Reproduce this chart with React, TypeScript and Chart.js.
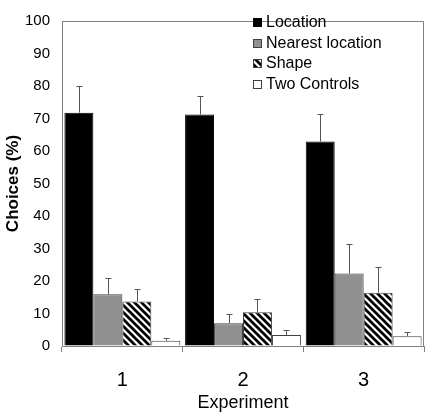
import React, { useEffect, useRef } from "react";
import { Chart, registerables } from "chart.js";

Chart.register(...registerables);

const categories = ["1", "2", "3"];
const seriesNames = ["Location", "Nearest location", "Shape", "Two Controls"];
const locationVals = [71.8, 71.2, 62.9];
const nearestVals = [15.9, 7.0, 22.3];
const shapeVals = [13.7, 10.4, 16.4];
const controlsVals = [1.6, 3.4, 3.0];
const locationErr = [8.1, 5.7, 8.4];
const nearestErr = [5.0, 2.9, 9.2];
const shapeErr = [3.8, 4.0, 7.9];
const controlsErr = [0.8, 1.5, 1.2];
const yTicks = [0, 10, 20, 30, 40, 50, 60, 70, 80, 90, 100];

const FONT = "'Liberation Sans', Arial, sans-serif";

function makeHatch(): CanvasPattern | string {
  const s = 7;
  const c = document.createElement("canvas");
  c.width = s;
  c.height = s;
  const g = c.getContext("2d");
  if (!g) return "#000";
  g.fillStyle = "#fff";
  g.fillRect(0, 0, s, s);
  g.strokeStyle = "#000";
  g.lineWidth = 2.7;
  for (const x0 of [-s, 0, s]) {
    g.beginPath();
    g.moveTo(x0 - 1, -1);
    g.lineTo(x0 + s + 1, s + 1);
    g.stroke();
  }
  const p = g.createPattern(c, "repeat");
  return p || "#000";
}

export default function App() {
  const ref = useRef<HTMLCanvasElement | null>(null);

  useEffect(() => {
    document.body.style.margin = "0";
    const canvas = ref.current;
    if (!canvas) return;
    const hatch = makeHatch();
    const values = [locationVals, nearestVals, shapeVals, controlsVals];
    const errors = [locationErr, nearestErr, shapeErr, controlsErr];
    const fills: any[] = ["#000000", "#909090", hatch, "#ffffff"];
    const borders = ["#000000", "#404040", "#404040", "#404040"];

    const errorPlugin = {
      id: "errbars",
      afterDatasetsDraw(chart: any) {
        const ctx = chart.ctx;
        const y = chart.scales.y;
        ctx.save();
        ctx.strokeStyle = "#555";
        ctx.lineWidth = 1;
        chart.data.datasets.forEach((ds: any, di: number) => {
          const meta = chart.getDatasetMeta(di);
          meta.data.forEach((bar: any, i: number) => {
            const v = ds.data[i];
            const e = errors[di][i];
            const x = Math.round(bar.x) + 0.5;
            const y0 = y.getPixelForValue(v);
            const y1 = Math.round(y.getPixelForValue(v + e)) + 0.5;
            ctx.beginPath();
            ctx.moveTo(x, y0);
            ctx.lineTo(x, y1);
            ctx.moveTo(x - 3, y1);
            ctx.lineTo(x + 3, y1);
            ctx.stroke();
          });
        });
        ctx.restore();
      },
    };

    const framePlugin = {
      id: "frame",
      afterDraw(chart: any) {
        const ctx = chart.ctx;
        const a = chart.chartArea;
        ctx.save();
        ctx.strokeStyle = "#808080";
        ctx.lineWidth = 1;
        ctx.beginPath();
        ctx.moveTo(Math.round(a.left) + 0.5, Math.round(a.top) + 0.5);
        ctx.lineTo(Math.round(a.right) - 0.5, Math.round(a.top) + 0.5);
        ctx.lineTo(Math.round(a.right) - 0.5, Math.round(a.bottom));
        ctx.stroke();
        // legend
        const lx = 253;
        const ly0 = 22;
        const step = 20.6;
        ctx.font = `16px ${FONT}`;
        ctx.textBaseline = "middle";
        ctx.textAlign = "left";
        seriesNames.forEach((name, i) => {
          const cy = Math.round(ly0 + i * step);
          ctx.fillStyle = fills[i];
          ctx.fillRect(lx, cy - 4, 9, 9);
          ctx.strokeStyle = i === 0 ? "#000" : "#404040";
          ctx.strokeRect(lx + 0.5, cy - 3.5, 8, 8);
          ctx.fillStyle = "#000";
          ctx.fillText(name, lx + 13, cy + 1);
        });
        ctx.restore();
      },
    };

    const chart = new Chart(canvas, {
      type: "bar",
      data: {
        labels: categories,
        datasets: values.map((vals, i) => ({
          label: seriesNames[i],
          data: vals,
          backgroundColor: fills[i],
          borderColor: borders[i],
          borderWidth: 1,
          categoryPercentage: 0.96,
          barPercentage: 1.0,
        })),
      },
      options: {
        animation: false,
        responsive: false,
        maintainAspectRatio: false,
        layout: { padding: { left: 0, top: 8, right: 5, bottom: 0 } },
        plugins: {
          legend: { display: false },
          tooltip: { enabled: false },
        },
        scales: {
          x: {
            afterFit: (s: any) => {
              s.height = 71;
            },
            grid: {
              display: true,
              offset: true,
              drawOnChartArea: false,
              drawTicks: true,
              tickLength: 6,
              color: "#808080",
            },
            border: { display: true, color: "#808080" },
            ticks: {
              color: "#000",
              font: { family: FONT, size: 20 },
              padding: 16,
            },
            title: {
              display: true,
              text: "Experiment",
              color: "#000",
              font: { family: FONT, size: 18 },
              padding: { top: 0, bottom: 3 },
            },
          },
          y: {
            min: 0,
            max: 100,
            afterFit: (s: any) => {
              s.width = 62;
            },
            afterBuildTicks: (s: any) => {
              s.ticks = yTicks.map((v) => ({ value: v }));
            },
            grid: {
              display: true,
              drawOnChartArea: false,
              drawTicks: false,
              color: "#808080",
            },
            border: { display: true, color: "#808080" },
            ticks: {
              color: "#000",
              font: { family: FONT, size: 15 },
              padding: 12,
            },
            title: {
              display: true,
              text: "Choices (%)",
              color: "#000",
              font: { family: FONT, size: 17, weight: "bold" },
              padding: { top: 3, bottom: 0 },
            },
          },
        },
      },
      plugins: [errorPlugin, framePlugin],
    });
    return () => chart.destroy();
  }, []);

  return (
    <div style={{ position: "absolute", left: 0, top: 0, width: 429, height: 417, background: "#fff" }}>
      <canvas ref={ref} width={429} height={417} style={{ display: "block" }} />
    </div>
  );
}
